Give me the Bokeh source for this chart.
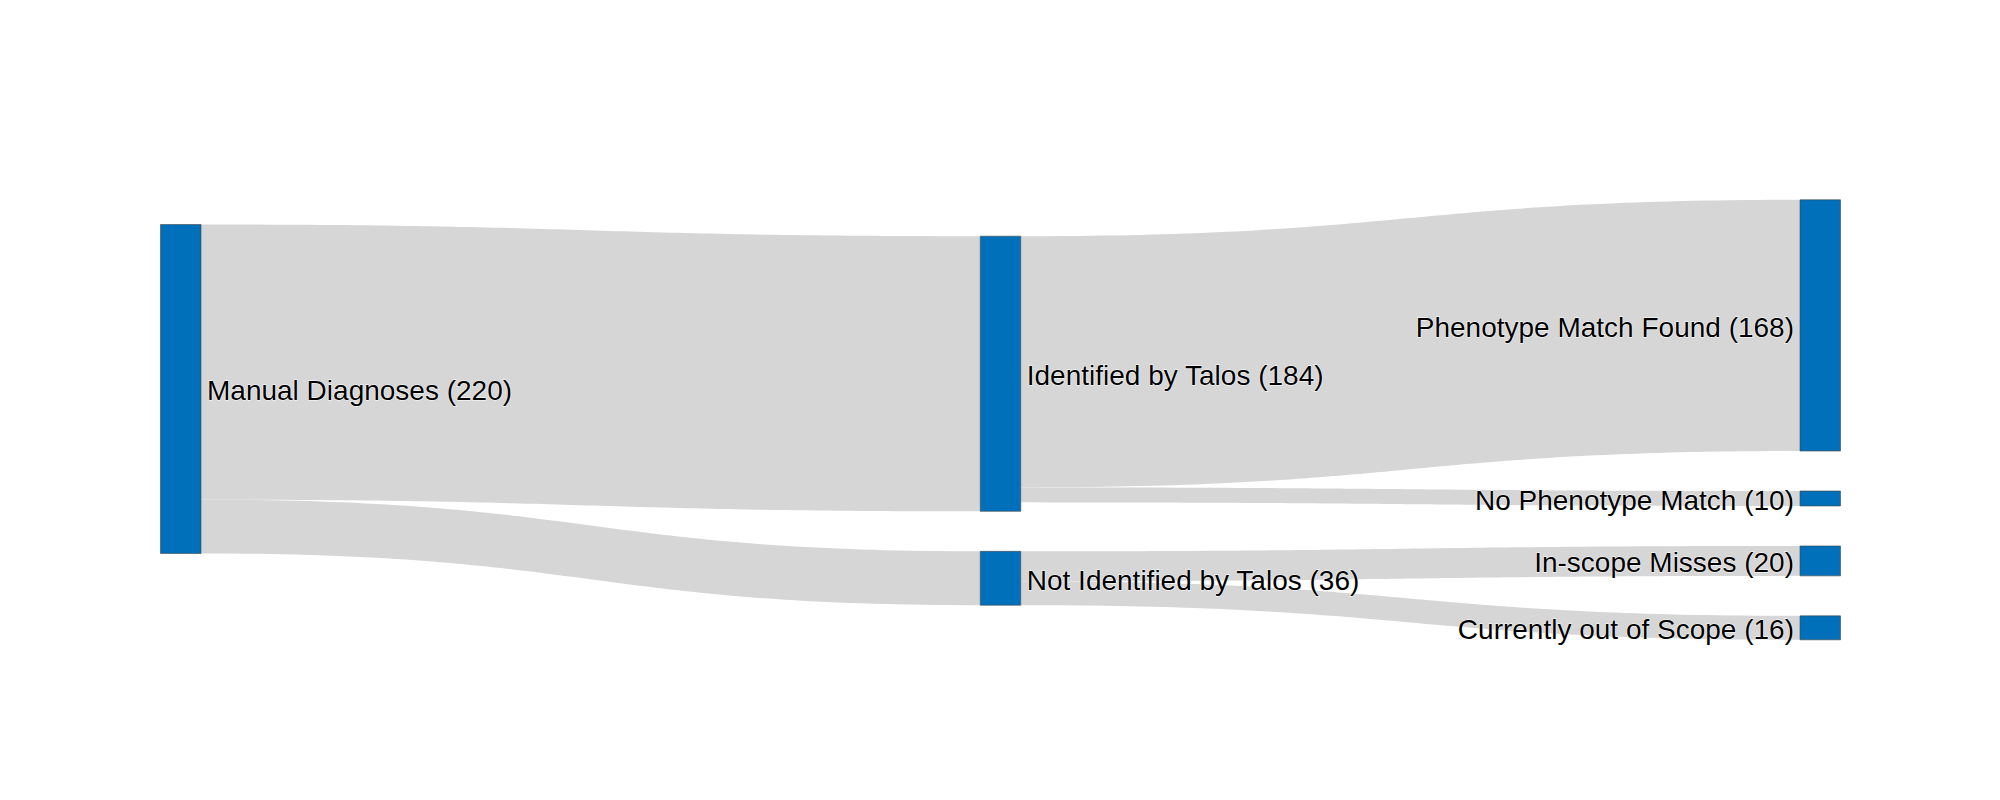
import numpy as np
from bokeh.plotting import figure
from bokeh.models import Range1d, ColumnDataSource
from bokeh.embed import file_html
from bokeh.resources import INLINE
from bokeh.core.properties import value

# ---------------- data ----------------
node_names = ["Manual Diagnoses", "Identified by Talos", "Not Identified by Talos",
              "Phenotype Match Found", "No Phenotype Match", "In-scope Misses",
              "Currently out of Scope"]
node_column = [0, 1, 1, 2, 2, 2, 2]
link_source = [0, 0, 1, 1, 2, 2]
link_target = [1, 2, 3, 4, 5, 6]
link_value = [184, 36, 168, 10, 20, 16]

# ---------------- layout / style ----------------
W, H = 2000, 800
dom_x0, dom_x1 = 160.0, 1840.0
dom_top, dom_height = 199.3, 440.0
node_width = 40.5
pad = 40.0
col_offset = [24.7, 36.4, 0.0]   # vertical shift of each column inside the domain
node_color = "#0070BA"
link_color = "#D6D6D6"
font = "Liberation Sans"
font_size = "28px"
label_dy = 2.0

n_nodes = len(node_names)
n_cols = max(node_column) + 1

# node values = max(in, out)
vin = np.zeros(n_nodes)
vout = np.zeros(n_nodes)
for s, t, v in zip(link_source, link_target, link_value):
    vout[s] += v
    vin[t] += v
node_value = np.maximum(vin, vout)

# scale: pixels per unit
ky = min((dom_height - (sum(1 for c in node_column if c == col) - 1) * pad)
         / sum(node_value[i] for i in range(n_nodes) if node_column[i] == col)
         for col in range(n_cols))

node_left = np.zeros(n_nodes)
node_top = np.zeros(n_nodes)
node_h = node_value * ky
for col in range(n_cols):
    y = dom_top + col_offset[col]
    for i in range(n_nodes):
        if node_column[i] == col:
            node_left[i] = dom_x0 + col / (n_cols - 1) * (dom_x1 - dom_x0 - node_width)
            node_top[i] = y
            y += node_h[i] + pad
node_right = node_left + node_width

# link positions
n_links = len(link_value)
src_y = np.zeros(n_links)
tgt_y = np.zeros(n_links)
for i in range(n_nodes):
    outs = sorted([k for k in range(n_links) if link_source[k] == i], key=lambda k: node_top[link_target[k]])
    y = node_top[i]
    for k in outs:
        src_y[k] = y
        y += link_value[k] * ky
    ins = sorted([k for k in range(n_links) if link_target[k] == i], key=lambda k: node_top[link_source[k]])
    y = node_top[i]
    for k in ins:
        tgt_y[k] = y
        y += link_value[k] * ky

tt = np.linspace(0, 1, 80)


def bez(x0, y0, x1, y1):
    xm = (x0 + x1) / 2
    bx = (1 - tt) ** 3 * x0 + 3 * (1 - tt) ** 2 * tt * xm + 3 * (1 - tt) * tt ** 2 * xm + tt ** 3 * x1
    by = (1 - tt) ** 3 * y0 + 3 * (1 - tt) ** 2 * tt * y0 + 3 * (1 - tt) * tt ** 2 * y1 + tt ** 3 * y1
    return bx, by


xs, ys = [], []
for k in range(n_links):
    s, t = link_source[k], link_target[k]
    x0, x1 = node_right[s], node_left[t]
    h = link_value[k] * ky
    tx, ty = bez(x0, src_y[k], x1, tgt_y[k])
    bx, by = bez(x0, src_y[k] + h, x1, tgt_y[k] + h)
    xs.append(list(tx) + list(bx[::-1]))
    ys.append(list(ty) + list(by[::-1]))

p = figure(width=W, height=H, x_range=Range1d(0, W), y_range=Range1d(H, 0),
           output_backend="svg", toolbar_location=None, min_border=0,
           x_axis_type=None, y_axis_type=None)
p.grid.visible = False
p.outline_line_color = None
p.background_fill_color = "white"
p.border_fill_color = "white"

p.patches(xs, ys, fill_color=link_color, line_color=None)

p.quad(left=node_left, right=node_right, top=node_top, bottom=node_top + node_h,
       fill_color=node_color, line_color="#444444", line_width=0.6)

labels = [f"{n} ({int(v)})" for n, v in zip(node_names, node_value)]
last = n_cols - 1
lab_left = ColumnDataSource(dict(
    x=[node_right[i] + 6 for i in range(n_nodes) if node_column[i] != last],
    y=[node_top[i] + node_h[i] / 2 + label_dy for i in range(n_nodes) if node_column[i] != last],
    t=[labels[i] for i in range(n_nodes) if node_column[i] != last]))
lab_right = ColumnDataSource(dict(
    x=[node_left[i] - 6 for i in range(n_nodes) if node_column[i] == last],
    y=[node_top[i] + node_h[i] / 2 + label_dy for i in range(n_nodes) if node_column[i] == last],
    t=[labels[i] for i in range(n_nodes) if node_column[i] == last]))

for src, align in ((lab_left, "left"), (lab_right, "right")):
    # white halo underneath
    p.text(x="x", y="y", text="t", source=src, text_align=align, text_baseline="middle",
           text_font=value(font), text_font_size=font_size, text_color="white",
           text_outline_color="white")
    # black text on top
    p.text(x="x", y="y", text="t", source=src, text_align=align, text_baseline="middle",
           text_font=value(font), text_font_size=font_size, text_color="black")

open("out.html", "w").write(file_html(p, INLINE))
